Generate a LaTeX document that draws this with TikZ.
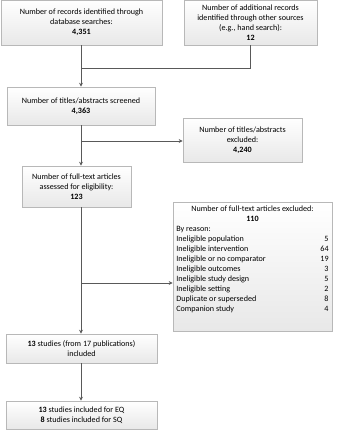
\documentclass[tikz,border=0pt]{standalone}
\usepackage{fontspec}
\setmainfont{Carlito}
\usetikzlibrary{arrows.meta,shadows,calc}
\begin{document}
\begin{tikzpicture}[x=1pt,y=-1pt,
  font=\fontsize{8.1}{10}\selectfont,
  box/.style={draw=black!28, line width=0.6pt, top color=white, bottom color=black!9,
    drop shadow={shadow xshift=0.8pt, shadow yshift=-0.8pt, opacity=0.25},
    inner sep=1pt, align=center},
  conn/.style={draw=black!65, line width=0.8pt},
  arr/.style={conn, -{Stealth[length=4pt,width=4pt]}}]
\useasboundingbox (0,0) rectangle (346,440);
\node[box, minimum width=161pt, minimum height=45pt] (b1) at (81.5,22.5)
  {Number of records identified through\\database searches:\\\textbf{4,351}};
\node[box, minimum width=133pt, minimum height=45pt] (b2) at (250.5,22.5)
  {Number of additional records\\identified through other sources\\(e.g., hand search):\\\textbf{12}};
\node[box, minimum width=148pt, minimum height=38pt] (b3) at (81,106)
  {Number of titles/abstracts screened\\\textbf{4,363}};
\node[box, minimum width=119pt, minimum height=44pt] (b5) at (242.5,140)
  {Number of titles/abstracts\\excluded:\\\textbf{4,240}};
\node[box, minimum width=109pt, minimum height=41pt] (b4) at (76.5,186.5)
  {Number of full-text articles\\assessed for eligibility:\\\textbf{123}};
\node[box, minimum width=159pt, minimum height=129pt] (b6) at (252.5,266.5) {};
\node[anchor=north, inner sep=0pt] (t6) at ($(b6.north)+(0,3)$)
  {\begin{tabular}{@{}p{144pt}@{}r@{}}
   \multicolumn{2}{@{}c@{}}{Number of full-text articles excluded:}\\
   \multicolumn{2}{@{}c@{}}{\textbf{110}}\\
   By reason: & \\
   Ineligible population & 5\\
   Ineligible intervention & 64\\
   Ineligible or no comparator & 19\\
   Ineligible outcomes & 3\\
   Ineligible study design & 5\\
   Ineligible setting & 2\\
   Duplicate or superseded & 8\\
   Companion study & 4
   \end{tabular}};
\node[box, minimum width=151pt, minimum height=29pt] (b7) at (81.5,348.5)
  {\textbf{13} studies (from 17 publications)\\included};
\node[box, minimum width=151pt, minimum height=28pt] (b8) at (81.5,415)
  {\textbf{13} studies included for EQ\\\textbf{8} studies included for SQ};
% connectors
\coordinate (j1) at (81,68);
\draw[arr] (b1.south -| j1) -- (j1 |- b3.north);
\draw[conn] (b2.south) -- (b2.south |- j1) -- (j1);
\coordinate (j2) at (81,141);
\draw[arr] (b3.south -| j2) -- (j2 |- b4.north);
\draw[arr] (j2) -- (j2 -| b5.west);
\coordinate (j3) at (81,283);
\draw[arr] (b4.south -| j3) -- (j3 |- b7.north);
\draw[arr] (j3) -- (j3 -| b6.west);
\draw[arr] (b7.south -| j3) -- (j3 |- b8.north);
\end{tikzpicture}
\end{document}
